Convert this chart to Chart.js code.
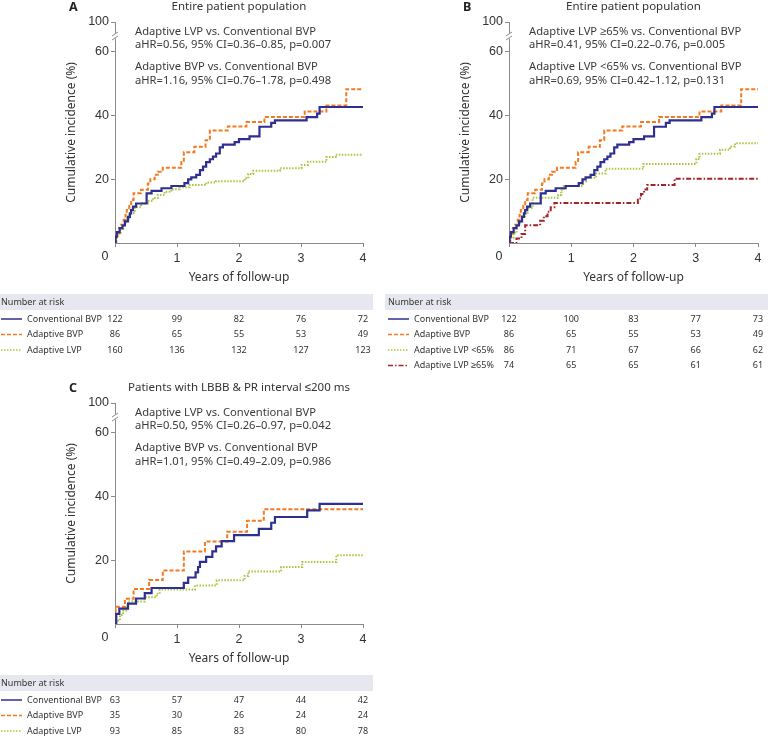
<!DOCTYPE html>
<html>
<head>
<meta charset="utf-8">
<script src="https://cdn.jsdelivr.net/npm/chart.js@4.4.0/dist/chart.umd.min.js"></script>
<style>
    body { margin: 0; background: #fff; width: 770px; height: 738px; position: relative; overflow: hidden; }
    canvas { position: absolute; }
    #chartA { left: 0; top: 0; }
    #chartB { left: 385px; top: 0; }
    #chartC { left: 0; top: 381px; }
</style>
</head>
<body>
<canvas id="chartA" width="385" height="362"></canvas>
<canvas id="chartB" width="385" height="378"></canvas>
<canvas id="chartC" width="385" height="357"></canvas>
<script>
// years
const yearTicks = [0, 1, 2, 3, 4];

// panel A (and B) - conventional BVP
const convT = [0, 0.01, 0.03, 0.075, 0.12, 0.16, 0.21, 0.24, 0.26, 0.29, 0.34, 0.51, 0.59, 0.75, 0.91, 1.12, 1.18, 1.23, 1.31, 1.37, 1.42, 1.47, 1.53, 1.58, 1.63, 1.69, 1.74, 1.93, 2.0, 2.17, 2.33, 2.52, 2.58, 3.09, 3.26, 3.30, 4.0];
const convV = [0, 2.0, 3.4, 4.7, 5.5, 6.8, 8.2, 9.3, 10.3, 11.4, 12.4, 15.6, 16.4, 17.2, 17.9, 18.8, 20.0, 20.6, 21.4, 22.9, 24.0, 25.4, 26.3, 27.1, 28.1, 30.0, 30.9, 31.7, 32.6, 33.5, 36.5, 37.7, 38.5, 39.5, 40.6, 42.7, 42.7];

// adaptive BVP
const bvpT = [0, 0.02, 0.065, 0.10, 0.14, 0.17, 0.19, 0.23, 0.26, 0.30, 0.42, 0.53, 0.57, 0.64, 0.69, 0.77, 1.07, 1.11, 1.28, 1.46, 1.53, 1.82, 2.12, 2.41, 3.06, 3.41, 3.73, 4.0];
const bvpV = [0, 3.0, 4.7, 5.7, 7.3, 8.9, 10.4, 11.7, 13.5, 15.6, 16.7, 18.7, 20.0, 21.4, 22.4, 23.6, 25.4, 28.5, 30.2, 32.3, 35.3, 36.6, 38.0, 39.6, 41.3, 43.2, 48.3, 48.3];

// adaptive LVP
const lvpT = [0, 0.02, 0.05, 0.09, 0.13, 0.17, 0.23, 0.32, 0.42, 0.53, 0.61, 0.69, 0.80, 0.91, 1.04, 1.20, 1.47, 1.63, 2.09, 2.15, 2.23, 2.66, 3.01, 3.11, 3.41, 3.56, 4.0];
const lvpV = [0, 1.6, 3.1, 4.4, 5.7, 7.8, 9.4, 11.2, 12.5, 13.2, 14.1, 15.1, 16.1, 16.9, 17.5, 18.2, 19.0, 19.4, 20.3, 21.7, 22.7, 23.5, 24.5, 25.5, 27.0, 27.7, 27.7];

// panel B - adaptive LVP <65% and >=65%
const lvpLowT = [0, 0.02, 0.07, 0.12, 0.16, 0.20, 0.26, 0.30, 0.38, 0.79, 0.84, 0.88, 1.19, 1.24, 1.40, 1.55, 2.16, 3.01, 3.06, 3.39, 3.55, 3.63, 4.0];
const lvpLowV = [0, 1.5, 3.1, 5.2, 6.2, 8.4, 9.5, 11.0, 14.2, 15.1, 16.6, 17.9, 19.3, 20.5, 21.8, 23.3, 24.8, 26.4, 28.0, 29.3, 30.3, 31.3, 31.3];
const lvpHighT = [0, 0.07, 0.12, 0.20, 0.26, 0.50, 0.56, 0.62, 0.67, 0.73, 2.07, 2.12, 2.17, 2.22, 2.66, 4.0];
const lvpHighV = [0, 0, 1.4, 2.8, 5.6, 7.0, 8.4, 9.8, 11.2, 12.6, 14.0, 15.4, 16.8, 18.2, 20.2, 20.2];

// panel C - LBBB & PR <= 200 ms
const cConvT = [0, 0.02, 0.07, 0.21, 0.34, 0.48, 0.59, 1.11, 1.18, 1.30, 1.34, 1.37, 1.47, 1.57, 1.63, 1.72, 1.92, 2.32, 2.52, 2.58, 3.10, 3.30, 4.0];
const cConvV = [0, 3.2, 4.8, 6.4, 8.0, 9.7, 11.3, 12.9, 14.6, 16.2, 17.9, 19.5, 21.1, 22.8, 24.4, 26.0, 27.9, 29.9, 31.8, 33.6, 35.7, 37.7, 37.7];
const cBvpT = [0, 0.01, 0.16, 0.30, 0.55, 0.77, 1.11, 1.45, 1.81, 2.13, 2.40, 4.0];
const cBvpV = [0, 5.4, 7.9, 11.0, 13.8, 16.8, 22.8, 25.9, 29.0, 32.4, 36.0, 36.0];
const cLvpT = [0, 0.02, 0.08, 0.13, 0.18, 0.21, 0.48, 0.67, 0.72, 1.29, 1.64, 2.09, 2.15, 2.68, 3.02, 3.57, 4.0];
const cLvpV = [0, 1.1, 2.8, 4.2, 5.8, 7.1, 8.4, 9.5, 10.8, 12.1, 13.7, 15.1, 16.5, 17.9, 19.5, 21.6, 21.6];

// number at risk
const riskA = {
    conv: [122, 99, 82, 76, 72],
    bvp: [86, 65, 55, 53, 49],
    lvp: [160, 136, 132, 127, 123]
};
const riskB = {
    conv: [122, 100, 83, 77, 73],
    bvp: [86, 65, 55, 53, 49],
    lvpLow: [86, 71, 67, 66, 62],
    lvpHigh: [74, 65, 65, 61, 61]
};
const riskC = {
    conv: [63, 57, 47, 44, 42],
    bvp: [35, 30, 26, 24, 24],
    lvp: [93, 85, 83, 80, 78]
};

// y ticks (the top one sits above the axis break and reads 100)
const yTickValues = [20, 40, 60, 69.4];
const yTickLabels = ['20', '40', '60', '100'];

// line styles
const styles = {
    conv: { color: '#2e2f8f', dash: [], width: 2.2 },
    bvp: { color: '#f37a21', dash: [4, 2], width: 2 },
    lvp: { color: '#a9c63c', dash: [1.5, 1.5], width: 2 },
    lvpHigh: { color: '#a3232b', dash: [5, 2, 1.5, 2], width: 2 }
};

const textFont = '"Noto Sans", sans-serif';

const pts = (ts, vs) => ts.map((t, i) => ({ x: t, y: vs[i] }));

const makeSet = (ts, vs, st, order) => ({
    data: pts(ts, vs),
    borderColor: st.color,
    borderWidth: st.width,
    borderDash: st.dash,
    stepped: true,
    pointRadius: 0,
    fill: false,
    order: order
});

// draws titles, notes, axis titles, axis break and the risk table
const decor = {
    id: 'decor',
    afterDraw(chart, args, o) {
        const { ctx, chartArea: a, scales: { x, y } } = chart;
        ctx.save();

        // axis break marks
        const by = y.getPixelForValue(65);
        ctx.fillStyle = '#fff';
        ctx.fillRect(a.left - 4, by - 2.5, 8, 5);
        ctx.strokeStyle = '#8a8a8a';
        ctx.lineWidth = 1;
        [-2, 2].forEach(d => {
            ctx.beginPath();
            ctx.moveTo(a.left - 3, by + d + 2);
            ctx.lineTo(a.left + 3, by + d - 2);
            ctx.stroke();
        });

        ctx.fillStyle = '#222';
        ctx.textBaseline = 'middle';

        // letter + title
        ctx.font = 'bold 12.5px ' + textFont;
        ctx.textAlign = 'left';
        ctx.fillText(o.letter, a.left - 46, a.top - 15);
        ctx.font = '11.5px ' + textFont;
        ctx.textAlign = 'center';
        ctx.fillStyle = '#333';
        ctx.fillText(o.title, (a.left + a.right) / 2, a.top - 15);

        // hazard ratio notes
        ctx.font = '11.2px ' + textFont;
        ctx.textAlign = 'left';
        ctx.fillStyle = '#3a3a3a';
        const noteY = [10, 23, 45, 59];
        o.notes.forEach((n, i) => ctx.fillText(n, a.left + 20, a.top + noteY[i]));

        // axis titles
        ctx.fillStyle = '#333';
        ctx.font = '12px ' + textFont;
        ctx.textAlign = 'center';
        ctx.fillText('Years of follow-up', (a.left + a.right) / 2, a.bottom + 35);
        ctx.save();
        ctx.translate(a.left - 43, (a.top + a.bottom) / 2);
        ctx.rotate(-Math.PI / 2);
        ctx.fillText('Cumulative incidence (%)', 0, 0);
        ctx.restore();

        // shared origin label
        ctx.font = '12.5px "Liberation Sans", Arial, sans-serif';
        ctx.fillText('0', a.left - 10, a.bottom + 14);

        // number at risk table
        const bandTop = a.bottom + 51;
        ctx.fillStyle = '#e7e7f0';
        ctx.fillRect(0, bandTop, Math.min(chart.width, a.right + 10), 16);
        ctx.fillStyle = '#333';
        ctx.font = '9px ' + textFont;
        ctx.textAlign = 'left';
        ctx.fillText('Number at risk', o.tableLeft, bandTop + 8);

        o.rows.forEach((r, i) => {
            const ry = a.bottom + 76 + 15.5 * i;
            const st = styles[r.style];
            ctx.strokeStyle = st.color;
            ctx.lineWidth = 1.5;
            ctx.setLineDash(st.dash);
            ctx.beginPath();
            ctx.moveTo(o.tableLeft, ry);
            ctx.lineTo(o.tableLeft + 21, ry);
            ctx.stroke();
            ctx.setLineDash([]);
            ctx.fillStyle = '#333';
            ctx.textAlign = 'left';
            ctx.fillText(r.label, o.tableLeft + 26, ry);
            ctx.textAlign = 'center';
            r.counts.forEach((c, k) => ctx.fillText(String(c), x.getPixelForValue(yearTicks[k]), ry));
        });
        ctx.restore();
    }
};

const makeChart = (id, datasets, opts, pad) => {
    return new Chart(id, {
        type: 'line',
        data: { datasets: datasets },
        options: {
            responsive: false,
            animation: false,
            layout: { padding: pad },
            plugins: {
                legend: { display: false },
                tooltip: { enabled: false },
                decor: opts
            },
            scales: {
                x: {
                    type: 'linear',
                    min: 0,
                    max: 4,
                    afterBuildTicks: (s) => { s.ticks = yearTicks.map(v => ({ value: v })); },
                    afterFit: (s) => { s.height = 40; },
                    grid: { drawOnChartArea: false, drawTicks: true, tickLength: 4, color: '#8a8a8a' },
                    border: { display: true, color: '#8a8a8a' },
                    ticks: {
                        color: '#333',
                        padding: 4,
                        maxRotation: 0,
                        font: { family: '"Liberation Sans", Arial, sans-serif', size: 12.5 },
                        callback: (v) => v === 0 ? '' : String(v)
                    }
                },
                y: {
                    type: 'linear',
                    min: 0,
                    max: 69.4,
                    afterBuildTicks: (s) => { s.ticks = yTickValues.map(v => ({ value: v })); },
                    afterFit: (s) => { s.width = opts.axisLeft; },
                    grid: { drawOnChartArea: false, drawTicks: true, tickLength: 4, color: '#8a8a8a' },
                    border: { display: true, color: '#8a8a8a' },
                    ticks: {
                        color: '#333',
                        padding: 2,
                        autoSkip: false,
                        font: { family: '"Liberation Sans", Arial, sans-serif', size: 12.5 },
                        callback: (v) => yTickLabels[yTickValues.indexOf(v)]
                    }
                }
            }
        },
        plugins: [decor]
    });
};

Chart.defaults.font.family = textFont;

var chartA = makeChart('chartA', [
    makeSet(lvpT, lvpV, styles.lvp, 3),
    makeSet(bvpT, bvpV, styles.bvp, 2),
    makeSet(convT, convV, styles.conv, 1)
], {
    letter: 'A',
    title: 'Entire patient population',
    axisLeft: 115,
    tableLeft: 1,
    notes: [
        'Adaptive LVP vs. Conventional BVP',
        'aHR=0.56, 95% CI=0.36\u20130.85, p=0.007',
        'Adaptive BVP vs. Conventional BVP',
        'aHR=1.16, 95% CI=0.76\u20131.78, p=0.498'
    ],
    rows: [
        { label: 'Conventional BVP', style: 'conv', counts: riskA.conv },
        { label: 'Adaptive BVP', style: 'bvp', counts: riskA.bvp },
        { label: 'Adaptive LVP', style: 'lvp', counts: riskA.lvp }
    ]
}, { left: 0, top: 22, right: 22, bottom: 362 - 243 - 40 });

var chartB = makeChart('chartB', [
    makeSet(lvpHighT, lvpHighV, styles.lvpHigh, 4),
    makeSet(lvpLowT, lvpLowV, styles.lvp, 3),
    makeSet(bvpT, bvpV, styles.bvp, 2),
    makeSet(convT, convV, styles.conv, 1)
], {
    letter: 'B',
    title: 'Entire patient population',
    axisLeft: 124,
    tableLeft: 3,
    notes: [
        'Adaptive LVP \u226565% vs. Conventional BVP',
        'aHR=0.41, 95% CI=0.22\u20130.76, p=0.005',
        'Adaptive LVP <65% vs. Conventional BVP',
        'aHR=0.69, 95% CI=0.42\u20131.12, p=0.131'
    ],
    rows: [
        { label: 'Conventional BVP', style: 'conv', counts: riskB.conv },
        { label: 'Adaptive BVP', style: 'bvp', counts: riskB.bvp },
        { label: 'Adaptive LVP <65%', style: 'lvp', counts: riskB.lvpLow },
        { label: 'Adaptive LVP \u226565%', style: 'lvpHigh', counts: riskB.lvpHigh }
    ]
}, { left: 0, top: 22, right: 12, bottom: 378 - 243 - 40 });

var chartC = makeChart('chartC', [
    makeSet(cLvpT, cLvpV, styles.lvp, 3),
    makeSet(cBvpT, cBvpV, styles.bvp, 2),
    makeSet(cConvT, cConvV, styles.conv, 1)
], {
    letter: 'C',
    title: 'Patients with LBBB & PR interval \u2264200 ms',
    axisLeft: 115,
    tableLeft: 1,
    notes: [
        'Adaptive LVP vs. Conventional BVP',
        'aHR=0.50, 95% CI=0.26\u20130.97, p=0.042',
        'Adaptive BVP vs. Conventional BVP',
        'aHR=1.01, 95% CI=0.49\u20132.09, p=0.986'
    ],
    rows: [
        { label: 'Conventional BVP', style: 'conv', counts: riskC.conv },
        { label: 'Adaptive BVP', style: 'bvp', counts: riskC.bvp },
        { label: 'Adaptive LVP', style: 'lvp', counts: riskC.lvp }
    ]
}, { left: 0, top: 22, right: 22, bottom: 357 - 243 - 40 });
</script>
</body>
</html>
